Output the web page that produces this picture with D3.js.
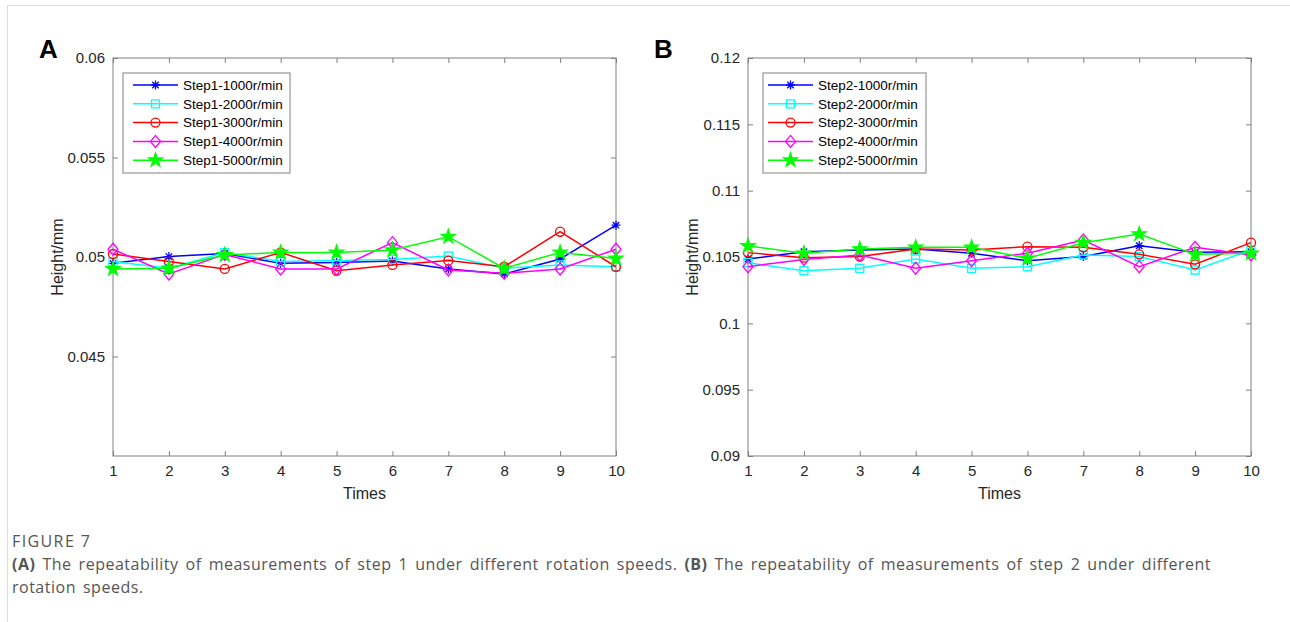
<!DOCTYPE html>
<html>
<head>
<meta charset="utf-8">
<script src="https://cdn.jsdelivr.net/npm/d3@7"></script>
<style>
  body { margin: 0; background: #fff; }
  svg { display: block; }
</style>
</head>
<body>
<div id="chart"></div>
<script>
// measurement index (x axis)
const times = [1, 2, 3, 4, 5, 6, 7, 8, 9, 10];

// step 1 heights (mm)
const step1_1000 = [0.04968, 0.05002, 0.05018, 0.04968, 0.04972, 0.0498, 0.0494, 0.04915, 0.0499, 0.0516];
const step1_2000 = [0.04977, 0.04943, 0.05022, 0.04977, 0.04982, 0.04988, 0.05005, 0.04943, 0.0496, 0.04951];
const step1_3000 = [0.05015, 0.04977, 0.0494, 0.05023, 0.04931, 0.0496, 0.04982, 0.04951, 0.05127, 0.04951];
const step1_4000 = [0.05039, 0.04915, 0.05013, 0.0494, 0.0494, 0.05072, 0.04935, 0.04918, 0.0494, 0.05039];
const step1_5000 = [0.0494, 0.04943, 0.0501, 0.05023, 0.05023, 0.05035, 0.05102, 0.04943, 0.05023, 0.04993];

// step 2 heights (mm)
const step2_1000 = [0.10485, 0.1054, 0.10553, 0.1056, 0.10528, 0.10472, 0.10503, 0.10585, 0.10535, 0.1054];
const step2_2000 = [0.10457, 0.10397, 0.10415, 0.10485, 0.10415, 0.10427, 0.10515, 0.10503, 0.10402, 0.10553];
const step2_3000 = [0.10533, 0.10495, 0.10503, 0.1056, 0.10553, 0.10578, 0.10573, 0.1052, 0.10445, 0.10608];
const step2_4000 = [0.10427, 0.10482, 0.10515, 0.10415, 0.10472, 0.10528, 0.10628, 0.10427, 0.10573, 0.10515];
const step2_5000 = [0.10583, 0.10528, 0.1056, 0.10573, 0.10573, 0.1049, 0.10608, 0.10673, 0.1052, 0.10528];

const speeds = ["1000r/min", "2000r/min", "3000r/min", "4000r/min", "5000r/min"];
const colors = ["#0000ff", "#00ffff", "#ff0000", "#ff00ff", "#00ff00"];
const markers = ["asterisk", "square", "circle", "diamond", "pentagram"];

const yTicksA = [0.045, 0.05, 0.055, 0.06];
const yTicksB = [0.09, 0.095, 0.1, 0.105, 0.11, 0.115, 0.12];

const W = 1290, H = 622;
const FONT = "'Liberation Sans', Arial, sans-serif";
const svg = d3.select("#chart").append("svg")
    .attr("width", W)
    .attr("height", H)
    .style("font-family", FONT);

// page frame
svg.append("rect")
    .attr("x", 7.5).attr("y", 5.5)
    .attr("width", 1400).attr("height", 800)
    .attr("fill", "none").attr("stroke", "#dcdcdc");

const axisColor = "#808080";
const labelColor = "#262626";

function markerPath(type) {
    if (type === "asterisk") {
        const r = 4.5, d = r * 0.72;
        return `M${-r},0L${r},0M0,${-r}L0,${r}M${-d},${-d}L${d},${d}M${-d},${d}L${d},${-d}`;
    }
    if (type === "square") return "M-4,-4H4V4H-4Z";
    if (type === "diamond") return "M0,-6L5,0L0,6L-5,0Z";
    if (type === "circle") return d3.symbol(d3.symbolCircle, 64)();
    return d3.symbol(d3.symbolStar, 60)();
}

function drawMarker(sel, type, color) {
    sel.append("path")
        .attr("d", markerPath(type))
        .attr("fill", type === "pentagram" ? color : "none")
        .attr("stroke", color)
        .attr("stroke-width", 1.3);
}

function drawPanel(opts) {
    const w = 503, h = 398;
    const g = svg.append("g").attr("transform", `translate(${opts.left},58)`);

    const x = d3.scaleLinear().domain([1, 10]).range([0, w]);
    const y = d3.scaleLinear().domain(opts.yDomain).range([h, 0]);

    // axes: ticks pointing inward, box on
    const xb = g.append("g").attr("transform", `translate(0,${h})`)
        .call(d3.axisBottom(x).tickValues(times).tickFormat(d3.format("d")).tickSizeInner(-5).tickSizeOuter(0).tickPadding(9));
    const xt = g.append("g")
        .call(d3.axisTop(x).tickValues(times).tickFormat("").tickSizeInner(-5).tickSizeOuter(0));
    const yl = g.append("g")
        .call(d3.axisLeft(y).tickValues(opts.yTicks).tickFormat(d => +d.toFixed(3) + "").tickSizeInner(-5).tickSizeOuter(0).tickPadding(8));
    const yr = g.append("g").attr("transform", `translate(${w},0)`)
        .call(d3.axisRight(y).tickValues(opts.yTicks).tickFormat("").tickSizeInner(-5).tickSizeOuter(0));
    [xb, xt, yl, yr].forEach(a => {
        a.attr("font-family", FONT).attr("font-size", 15);
        a.select(".domain").remove();
        a.selectAll("line").attr("stroke", axisColor);
        a.selectAll("text").attr("fill", labelColor);
    });
    g.append("rect").attr("width", w).attr("height", h)
        .attr("fill", "none").attr("stroke", axisColor).attr("stroke-width", 1);

    // series
    const line = d3.line().x((d, i) => x(times[i])).y(d => y(d));
    opts.series.forEach((vals, k) => {
        g.append("path").datum(vals)
            .attr("d", line)
            .attr("fill", "none")
            .attr("stroke", colors[k])
            .attr("stroke-width", 1.5);
        vals.forEach((v, i) => {
            const m = g.append("g").attr("transform", `translate(${x(times[i])},${y(v)})`);
            drawMarker(m, markers[k], colors[k]);
        });
    });

    // legend
    const lg = g.append("g").attr("transform", `translate(${opts.legX},15)`);
    lg.append("rect").attr("width", opts.legW).attr("height", 100)
        .attr("fill", "#fff").attr("stroke", axisColor);
    speeds.forEach((s, k) => {
        const yy = 12 + k * 18.8;
        lg.append("line").attr("x1", opts.legLine).attr("x2", opts.legLine + 45)
            .attr("y1", yy).attr("y2", yy)
            .attr("stroke", colors[k]).attr("stroke-width", 1.5);
        const m = lg.append("g").attr("transform", `translate(${opts.legLine + 22.5},${yy})`);
        drawMarker(m, markers[k], colors[k]);
        lg.append("text").attr("x", opts.legLine + 50).attr("y", yy)
            .attr("dy", "0.36em")
            .attr("fill", "#000")
            .style("font-size", "13.5px")
            .text(opts.prefix + "-" + s);
    });

    // axis titles
    g.append("text").attr("x", w / 2).attr("y", h + 43)
        .attr("text-anchor", "middle").attr("fill", labelColor)
        .style("font-size", "16px").text("Times");
    g.append("text")
        .attr("transform", `translate(${-50},${h / 2}) rotate(-90)`)
        .attr("text-anchor", "middle").attr("fill", labelColor)
        .style("font-size", "16px").text("Height/mm");

    // panel letter
    svg.append("text").attr("x", opts.letterX).attr("y", 58)
        .attr("font-weight", "bold").style("font-size", "26px")
        .attr("fill", "#000").text(opts.letter);
}

drawPanel({
    left: 113, yDomain: [0.04, 0.06], yTicks: yTicksA,
    series: [step1_1000, step1_2000, step1_3000, step1_4000, step1_5000],
    prefix: "Step1", legX: 10, legW: 167, legLine: 10, letter: "A", letterX: 39
});
drawPanel({
    left: 748, yDomain: [0.09, 0.12], yTicks: yTicksB,
    series: [step2_1000, step2_2000, step2_3000, step2_4000, step2_5000],
    prefix: "Step2", legX: 15, legW: 163, legLine: 5, letter: "B", letterX: 654
});

// caption
const cap = svg.append("g").style("font-family", "'Open Sans', 'Noto Sans', sans-serif")
    .attr("fill", "#555");
cap.append("text").attr("x", 12).attr("y", 547)
    .style("font-size", "16px").style("letter-spacing", "1.4px").text("FIGURE 7");
const l1 = cap.append("text").attr("x", 12).attr("y", 570)
    .style("font-size", "16px").style("letter-spacing", "0.5px").style("word-spacing", "2.4px");
l1.append("tspan").attr("font-weight", "bold").text("(A)");
l1.append("tspan").text(" The repeatability of measurements of step 1 under different rotation speeds. ");
l1.append("tspan").attr("font-weight", "bold").text("(B)");
l1.append("tspan").text(" The repeatability of measurements of step 2 under different");
cap.append("text").attr("x", 12).attr("y", 593)
    .style("font-size", "16px").style("letter-spacing", "0.5px").style("word-spacing", "2.4px")
    .text("rotation speeds.");
</script>
</body>
</html>
